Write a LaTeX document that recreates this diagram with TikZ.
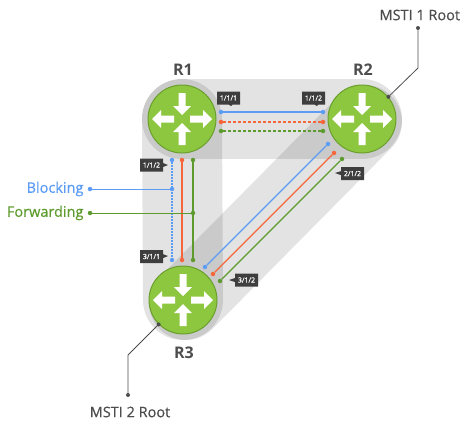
\documentclass[tikz,border=0pt]{standalone}
\usepackage{fontspec}
\setmainfont{Open Sans}
\newfontfamily\semifont[FakeBold=0.5]{Open Sans}
\usepackage{tikz}
\usetikzlibrary{arrows, calc, shapes.callouts}

\definecolor{routergreen}{HTML}{8DC63F}
\definecolor{routeredge}{HTML}{6A9F2E}
\definecolor{blkblue}{HTML}{5C9CF5}
\definecolor{fwdorange}{HTML}{F5673A}
\definecolor{fwdgreen}{HTML}{5E9B2F}
\definecolor{tagfill}{HTML}{3E3E3E}
\definecolor{textgray}{HTML}{4D4D4D}

\tikzset{
    band/.style={line width=80pt, line cap=round, draw=black, draw opacity=0.11},
    router/.style={circle, draw=routeredge, line width=1pt, fill=routergreen, minimum size=68pt, inner sep=0pt},
    rname/.style={font=\bfseries\fontsize{16}{18}\selectfont, text=textgray},
    caption/.style={font=\semifont\fontsize{14.5}{16}\selectfont},
    port/.style={rectangle callout, fill=tagfill, text=white, font=\semifont\fontsize{7}{8}\selectfont,
        inner sep=1pt, minimum width=23pt, minimum height=13pt, callout pointer width=4pt},
    link/.style={line width=1.2pt},
    shortdash/.style={dash pattern=on 3pt off 2pt},
    dotline/.style={dash pattern=on 1.5pt off 1.5pt},
    dot/.style={circle, inner sep=0pt, minimum size=4.5pt},
    leader/.style={textgray, line width=0.8pt},
    outarrow/.pic={\fill[white] (8,-3.5) -- (21,-3.5) -- (21,-9) -- (30,0) -- (21,9) -- (21,3.5) -- (8,3.5) -- cycle;},
    inarrow/.pic={\fill[white] (26,-3.5) -- (13,-3.5) -- (13,-9) -- (4,0) -- (13,9) -- (13,3.5) -- (26,3.5) -- cycle;}
}

\begin{document}
\begin{tikzpicture}[x=1pt, y=-1pt]
    \useasboundingbox (0,0) rectangle (460,423);

    % router positions
    \coordinate (c1) at (182,119);
    \coordinate (c2) at (362,119);
    \coordinate (c3) at (183,300);

    % grey bands
    \draw[band] (c1) -- (c2);
    \draw[band] (c1) -- (c3);
    \draw[band, line width=74pt] ($(c2)+(3,3)$) -- ($(c3)+(3,3)$);

    % routers
    \foreach \r in {1,2,3} {
        \node[router] (R\r) at (c\r) {};
        \pic[rotate=0] at (R\r) {outarrow};
        \pic[rotate=180] at (R\r) {outarrow};
        \pic[rotate=90] at (R\r) {inarrow};
        \pic[rotate=270] at (R\r) {inarrow};
    }
    \node[rname] (n1) at (183,70) {R1};
    \node[rname] (n2) at (363,70) {R2};
    \node[rname] (n3) at (184,353) {R3};

    % links R1 - R2
    \foreach \n/\c/\y/\s in {hb/blkblue/112/solid, ho/fwdorange/122/shortdash, hg/fwdgreen/131/shortdash} {
        \node[dot, fill=\c] (\n1) at (221,\y) {};
        \node[dot, fill=\c] (\n2) at (323,\y) {};
        \draw[link, \c, \s] (\n1) -- (\n2);
    }

    % links R1 - R3
    \foreach \n/\c/\x/\s in {vb/blkblue/172/dotline, vo/fwdorange/182/solid, vg/fwdgreen/193/solid} {
        \node[dot, fill=\c] (\n1) at (\x,160) {};
        \node[dot, fill=\c] (\n2) at (\x,260) {};
        \draw[link, \c, \s] (\n1) -- (\n2);
    }

    % links R2 - R3
    \foreach \n/\c/\xa/\ya/\xb/\yb in {db/blkblue/328/144/205/267, do/fwdorange/334/153/213/274, dg/fwdgreen/342/159/220/281} {
        \node[dot, fill=\c] (\n1) at (\xa,\ya) {};
        \node[dot, fill=\c] (\n2) at (\xb,\yb) {};
        \draw[link, \c] (\n1) -- (\n2);
    }

    % port tags
    \node[port, callout absolute pointer={(231,106)}] (p111) at (228.5,98) {1/1/1};
    \node[port, callout absolute pointer={(317,106)}] (p112) at (313.5,98) {1/1/2};
    \node[port, callout absolute pointer={(168,165)}] (p112b) at (151.5,165) {1/1/2};
    \node[port, callout absolute pointer={(168,256)}] (p311) at (151.5,256.5) {3/1/1};
    \node[port, callout absolute pointer={(229,280)}] (p312) at (246.5,280) {3/1/2};
    \node[port, callout absolute pointer={(335,173)}] (p212) at (352.5,173.5) {2/1/2};

    % legend
    \node[caption, text=blkblue, anchor=east] (blk) at (87,189) {Blocking};
    \node[dot, fill=blkblue] (blka) at (90,189) {};
    \node[dot, fill=blkblue] (blkb) at (172,189) {};
    \draw[blkblue, line width=1pt] (blka) -- (blkb);

    \node[caption, text=fwdgreen, anchor=east] (fwd) at (87,213) {Forwarding};
    \node[dot, fill=fwdgreen] (fwda) at (90,213) {};
    \node[dot, fill=fwdgreen] (fwdb) at (193,213) {};
    \draw[fwdgreen, line width=1pt] (fwda) -- (fwdb);

    % roots
    \node[caption, text=textgray, anchor=west] (m1) at (376,15) {MSTI 1 Root};
    \node[dot, fill=textgray, minimum size=4pt] (m1a) at (418,28) {};
    \node[dot, fill=textgray, minimum size=4pt] (m1b) at (R2.40) {};
    \draw[leader] (m1a) -- ++(0,40) -- (m1b);

    \node[caption, text=textgray] (m2) at (130,412) {MSTI 2 Root};
    \node[dot, fill=textgray, minimum size=4pt] (m2a) at (128,395) {};
    \node[dot, fill=textgray, minimum size=4pt] (m2b) at (R3.225) {};
    \draw[leader] (m2a) -- ++(0,-40) -- (m2b);
\end{tikzpicture}
\end{document}
